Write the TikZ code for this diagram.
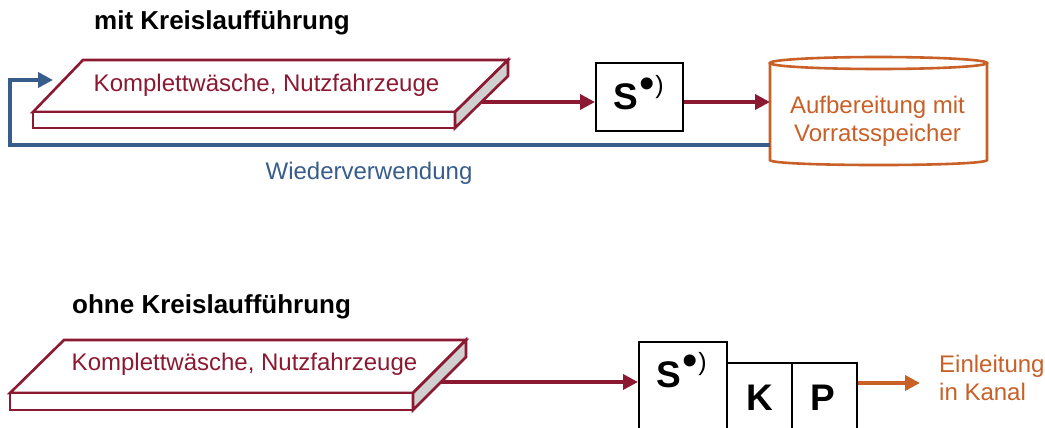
\documentclass[tikz,border=0pt]{standalone}
\usepackage{fontspec}
\setmainfont{Liberation Sans}
\usetikzlibrary{arrows.meta}
\definecolor{wine}{RGB}{140,25,50}
\definecolor{steel}{RGB}{56,93,138}
\definecolor{rust}{RGB}{200,96,40}
\definecolor{sidegray}{RGB}{208,208,208}
\newcommand\sealmark{S\kern1.5pt\raisebox{11.5pt}{\fontsize{44}{44}\selectfont\mdseries •}\raisebox{17pt}{\fontsize{25}{25}\selectfont\mdseries )}}
\begin{document}
\begin{tikzpicture}[x=1pt,y=-1pt,
  slabface/.style={draw=wine,line width=2.6pt,fill=white},
  slabside/.style={draw=wine,line width=2.6pt,fill=sidegray},
  flow/.style={draw=wine,line width=3.6pt,-{Triangle[length=15pt,width=15pt]}},
  drain/.style={draw=rust,line width=3.6pt,-{Triangle[length=15pt,width=15pt]}},
  reuse/.style={draw=steel,line width=3.6pt,-{Triangle[length=15pt,width=15pt]}},
  unit/.style={draw=black,line width=2pt,fill=white,inner sep=0pt},
  boxfont/.style={font=\fontsize{24}{28}\selectfont},
  headfont/.style={font=\fontsize{26}{30}\selectfont\bfseries},
  bigfont/.style={font=\fontsize{37}{37}\selectfont\bfseries},
]
\clip (0,0) rectangle (1045,428);
\fill[white] (0,0) rectangle (1045,428);

% ---------- with recirculation ----------
\node[headfont,anchor=base west,inner sep=0pt] (headA) at (94,30) {mit Kreislaufführung};

% washing slab
\draw[slabface] (33,112) -- (455,112) -- (508,60) -- (83,60) -- cycle;
\draw[slabface] (33,112) rectangle (455,128);
\draw[slabside] (455,112) -- (508,60) -- (508,76) -- (455,128) -- cycle;
\node[boxfont,text=wine,anchor=base,inner sep=0pt] (washA) at (266.5,92) {Komplettwäsche, Nutzfahrzeuge};
\coordinate (washAout) at (482,102);
\coordinate (washAin) at (53,80);

% separator
\node[unit,minimum width=87pt,minimum height=68pt] (sepA) at (639.5,97) {};
\node[bigfont,anchor=base west,inner sep=0pt] (sepAlbl) at (613.5,110) {\sealmark};

% storage tank
\draw[rust,line width=2.6pt,fill=white] (770,63) -- (770,160) .. controls (770,166.7) and (987,166.7) .. (987,160) -- (987,63);
\draw[rust,line width=2.6pt,fill=white] (878.5,63) ellipse [x radius=108.5, y radius=6];
\node[boxfont,text=rust,align=center,anchor=base,inner sep=0pt] (store) at (877.5,141) {Aufbereitung mit\\Vorratsspeicher};
\coordinate (storeIn) at (770,102);
\coordinate (storeOut) at (770,145);

\draw[flow] (washAout) -- (washAout -| sepA.west);
\draw[flow] (sepA.east |- storeIn) -- (storeIn);
\draw[reuse] (storeOut) -- (10,145) -- (10,80) -- (washAin);
\node[boxfont,text=steel,anchor=base,inner sep=0pt] (reuseLbl) at (369,179) {Wiederverwendung};

% ---------- without recirculation ----------
\node[headfont,anchor=base west,inner sep=0pt] (headB) at (72,313) {ohne Kreislaufführung};

\draw[slabface] (10,393) -- (413,393) -- (466,340) -- (64,340) -- cycle;
\draw[slabface] (10,393) rectangle (413,410);
\draw[slabside] (413,393) -- (466,340) -- (466,357) -- (413,410) -- cycle;
\node[boxfont,text=wine,anchor=base,inner sep=0pt] (washB) at (244.5,370) {Komplettwäsche, Nutzfahrzeuge};
\coordinate (washBout) at (441,382);

\node[unit,minimum width=88pt,minimum height=98pt] (sepB) at (683,391) {};
\node[unit,minimum width=65pt,minimum height=77pt] (coag) at (759.5,401.5) {};
\node[unit,minimum width=65pt,minimum height=77pt] (pump) at (824.5,401.5) {};
\node[bigfont,anchor=base west,inner sep=0pt] (sepBlbl) at (656.5,387) {\sealmark};
\node[bigfont,anchor=base,inner sep=0pt] (coagLbl) at (759.5,410) {K};
\node[bigfont,anchor=base,inner sep=0pt] (pumpLbl) at (823,410) {P};

\coordinate (sewer) at (920,383);
\draw[flow] (washBout) -- (washBout -| sepB.west);
\draw[drain] (pump.east |- sewer) -- (sewer);
\node[boxfont,text=rust,align=left,anchor=base west,inner sep=0pt] (sewerLbl) at (939,400) {Einleitung\\in Kanal};
\end{tikzpicture}
\end{document}
